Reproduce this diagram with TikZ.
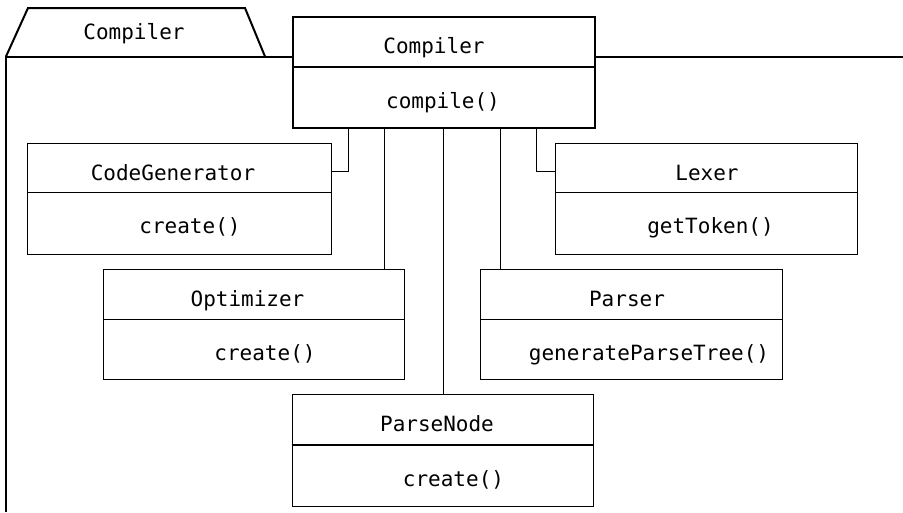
\documentclass[tikz,border=0pt]{standalone}
\usepackage{fontspec}
\newfontfamily\umlfont{DejaVu Sans Mono}
\begin{document}
\begin{tikzpicture}[x=1pt,y=-1pt,
  cls/.style={draw, fill=white, line width=1.3pt, inner sep=0pt, anchor=north west},
  lbl/.style={font=\umlfont\fontsize{21}{25}\selectfont, inner sep=0pt, anchor=base},
  conn/.style={draw, line width=1pt},
  frameline/.style={line width=2pt, line join=miter}]
\useasboundingbox (0,0) rectangle (903,512);
% package frame
\draw[frameline] (6,512) -- (6,56.5) -- (903,56.5);
\draw[frameline] (6,56.5) -- (28,8) -- (245,8) -- (265,56.5);
\node[lbl] (pkg) at (134,39.5) {Compiler};
% helper coordinates for connectors
\coordinate (x1) at (348.5,171.5);
\coordinate (x2) at (384,0);
\coordinate (x3) at (443,0);
\coordinate (x4) at (500,0);
\coordinate (x5) at (536,171.5);
% classes
\node[cls, line width=2pt, minimum width=302pt, minimum height=111pt] (comp) at (291.5,16) {};
\draw[line width=2pt] ([yshift=-51pt]comp.north west) -- ([yshift=-51pt]comp.north east);
\node[lbl] (compn) at (434,53) {Compiler};
\node[lbl] (compm) at (443,108) {compile()};

\node[cls, minimum width=303.5pt, minimum height=110.5pt] (cg) at (27,143) {};
\draw[line width=1.3pt] ([yshift=-49.5pt]cg.north west) -- ([yshift=-49.5pt]cg.north east);
\node[lbl] (cgn) at (173,180) {CodeGenerator};
\node[lbl] (cgm) at (190,233.5) {create()};

\node[cls, minimum width=302pt, minimum height=110.5pt] (lex) at (555,143) {};
\draw[line width=1.3pt] ([yshift=-49.5pt]lex.north west) -- ([yshift=-49.5pt]lex.north east);
\node[lbl] (lexn) at (707,180) {Lexer};
\node[lbl] (lexm) at (710.5,233.5) {getToken()};

\node[cls, minimum width=301.5pt, minimum height=110pt] (opt) at (102.5,269) {};
\draw[line width=1.3pt] ([yshift=-50.5pt]opt.north west) -- ([yshift=-50.5pt]opt.north east);
\node[lbl] (optn) at (247.5,306) {Optimizer};
\node[lbl] (optm) at (265,360.5) {create()};

\node[cls, minimum width=302pt, minimum height=110pt] (par) at (480,269) {};
\draw[line width=1.3pt] ([yshift=-50.5pt]par.north west) -- ([yshift=-50.5pt]par.north east);
\node[lbl] (parn) at (627,306) {Parser};
\node[lbl] (parm) at (649,360.5) {generateParseTree()};

\node[cls, minimum width=301.5pt, minimum height=112pt] (pn) at (291.5,394) {};
\draw[line width=1.3pt] ([yshift=-51pt]pn.north west) -- ([yshift=-51pt]pn.north east);
\node[lbl] (pnn) at (437,431) {ParseNode};
\node[lbl] (pnm) at (453.5,486) {create()};

% connectors
\draw[conn] (comp.south -| x1) |- (cg.east |- x1);
\draw[conn] (comp.south -| x2) -- (opt.north -| x2);
\draw[conn] (comp.south -| x3) -- (pn.north -| x3);
\draw[conn] (comp.south -| x4) -- (par.north -| x4);
\draw[conn] (comp.south -| x5) |- (lex.west |- x5);
\end{tikzpicture}
\end{document}
